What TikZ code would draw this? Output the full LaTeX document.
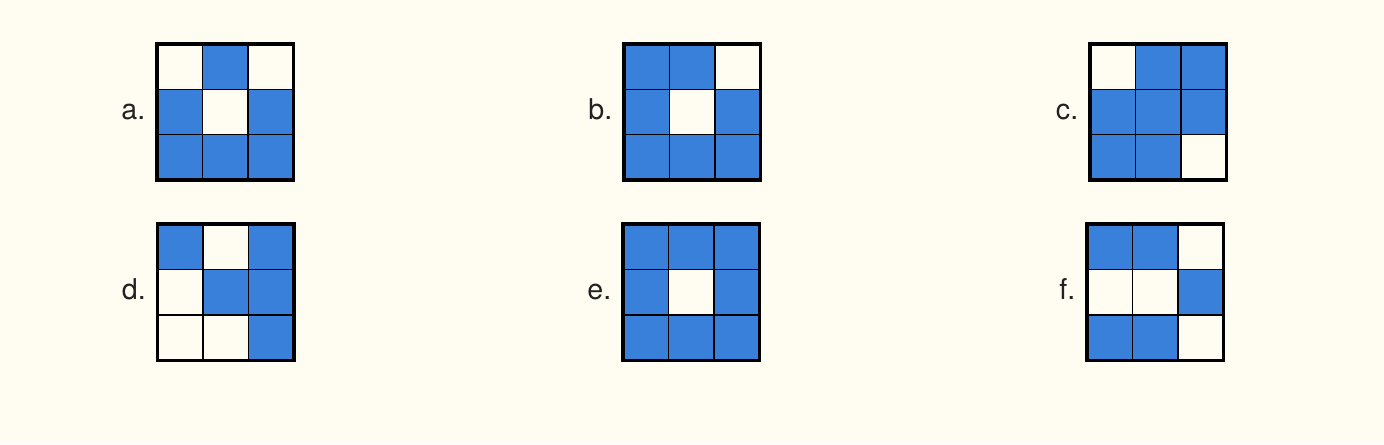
\documentclass[tikz,border=0pt]{standalone}
\usepackage{fontspec}
\setmainfont{TeX Gyre Heros}
\usepackage{xcolor}
\usepackage{tikz}
\definecolor{cellblue}{RGB}{57,128,218}
\definecolor{paper}{RGB}{255,253,242}
\definecolor{ink}{RGB}{34,34,34}
\tikzset{
  lbl/.style={anchor=base east, inner sep=0pt, text=ink, font=\fontsize{21.5}{26}\selectfont},
  thin grid/.style={line width=0.9pt, black},
  frame/.style={line width=2.8pt, black},
}

\begin{document}
\begin{tikzpicture}[x=0.75pt, y=-0.75pt]
  \fill[paper] (0,0) rectangle (1384,444);
  % a
  \begin{scope}[shift={(157,43.7)}, scale=45.5]
    \fill[cellblue] (1,0) rectangle (2,1);
    \fill[cellblue] (0,1) rectangle (1,2);
    \fill[cellblue] (2,1) rectangle (3,2);
    \fill[cellblue] (0,2) rectangle (1,3);
    \fill[cellblue] (1,2) rectangle (2,3);
    \fill[cellblue] (2,2) rectangle (3,3);
    \foreach \x in {1,2} { \draw[thin grid] (\x,0) -- (\x,3); }
    \foreach \y in {1,2} { \draw[thin grid] (0,\y) -- (3,\y); }
    \draw[frame] (0,0) rectangle (3,3);
  \end{scope}
  \node[lbl] (la) at (145.5,119) {a.};
  % b
  \begin{scope}[shift={(624,43.7)}, scale=45.5]
    \fill[cellblue] (0,0) rectangle (1,1);
    \fill[cellblue] (1,0) rectangle (2,1);
    \fill[cellblue] (0,1) rectangle (1,2);
    \fill[cellblue] (2,1) rectangle (3,2);
    \fill[cellblue] (0,2) rectangle (1,3);
    \fill[cellblue] (1,2) rectangle (2,3);
    \fill[cellblue] (2,2) rectangle (3,3);
    \foreach \x in {1,2} { \draw[thin grid] (\x,0) -- (\x,3); }
    \foreach \y in {1,2} { \draw[thin grid] (0,\y) -- (3,\y); }
    \draw[frame] (0,0) rectangle (3,3);
  \end{scope}
  \node[lbl] (lb) at (612.5,119) {b.};
  % c
  \begin{scope}[shift={(1090,43.7)}, scale=45.5]
    \fill[cellblue] (1,0) rectangle (2,1);
    \fill[cellblue] (2,0) rectangle (3,1);
    \fill[cellblue] (0,1) rectangle (1,2);
    \fill[cellblue] (1,1) rectangle (2,2);
    \fill[cellblue] (2,1) rectangle (3,2);
    \fill[cellblue] (0,2) rectangle (1,3);
    \fill[cellblue] (1,2) rectangle (2,3);
    \foreach \x in {1,2} { \draw[thin grid] (\x,0) -- (\x,3); }
    \foreach \y in {1,2} { \draw[thin grid] (0,\y) -- (3,\y); }
    \draw[frame] (0,0) rectangle (3,3);
  \end{scope}
  \node[lbl] (lc) at (1078.5,119) {c.};
  % d
  \begin{scope}[shift={(157.5,224)}, scale=45.5]
    \fill[cellblue] (0,0) rectangle (1,1);
    \fill[cellblue] (2,0) rectangle (3,1);
    \fill[cellblue] (1,1) rectangle (2,2);
    \fill[cellblue] (2,1) rectangle (3,2);
    \fill[cellblue] (2,2) rectangle (3,3);
    \foreach \x in {1,2} { \draw[thin grid] (\x,0) -- (\x,3); }
    \foreach \y in {1,2} { \draw[thin grid] (0,\y) -- (3,\y); }
    \draw[frame] (0,0) rectangle (3,3);
  \end{scope}
  \node[lbl] (ld) at (146,299.5) {d.};
  % e
  \begin{scope}[shift={(623,224)}, scale=45.5]
    \fill[cellblue] (0,0) rectangle (3,1);
    \fill[cellblue] (0,1) rectangle (1,2);
    \fill[cellblue] (2,1) rectangle (3,2);
    \fill[cellblue] (0,2) rectangle (3,3);
    \foreach \x in {1,2} { \draw[thin grid] (\x,0) -- (\x,3); }
    \foreach \y in {1,2} { \draw[thin grid] (0,\y) -- (3,\y); }
    \draw[frame] (0,0) rectangle (3,3);
  \end{scope}
  \node[lbl] (le) at (611.5,299.5) {e.};
  % f
  \begin{scope}[shift={(1087,224)}, scale=45.5]
    \fill[cellblue] (0,0) rectangle (1,1);
    \fill[cellblue] (1,0) rectangle (2,1);
    \fill[cellblue] (2,1) rectangle (3,2);
    \fill[cellblue] (0,2) rectangle (1,3);
    \fill[cellblue] (1,2) rectangle (2,3);
    \foreach \x in {1,2} { \draw[thin grid] (\x,0) -- (\x,3); }
    \foreach \y in {1,2} { \draw[thin grid] (0,\y) -- (3,\y); }
    \draw[frame] (0,0) rectangle (3,3);
  \end{scope}
  \node[lbl] (lf) at (1075.5,299.5) {f.};
\end{tikzpicture}
\end{document}
